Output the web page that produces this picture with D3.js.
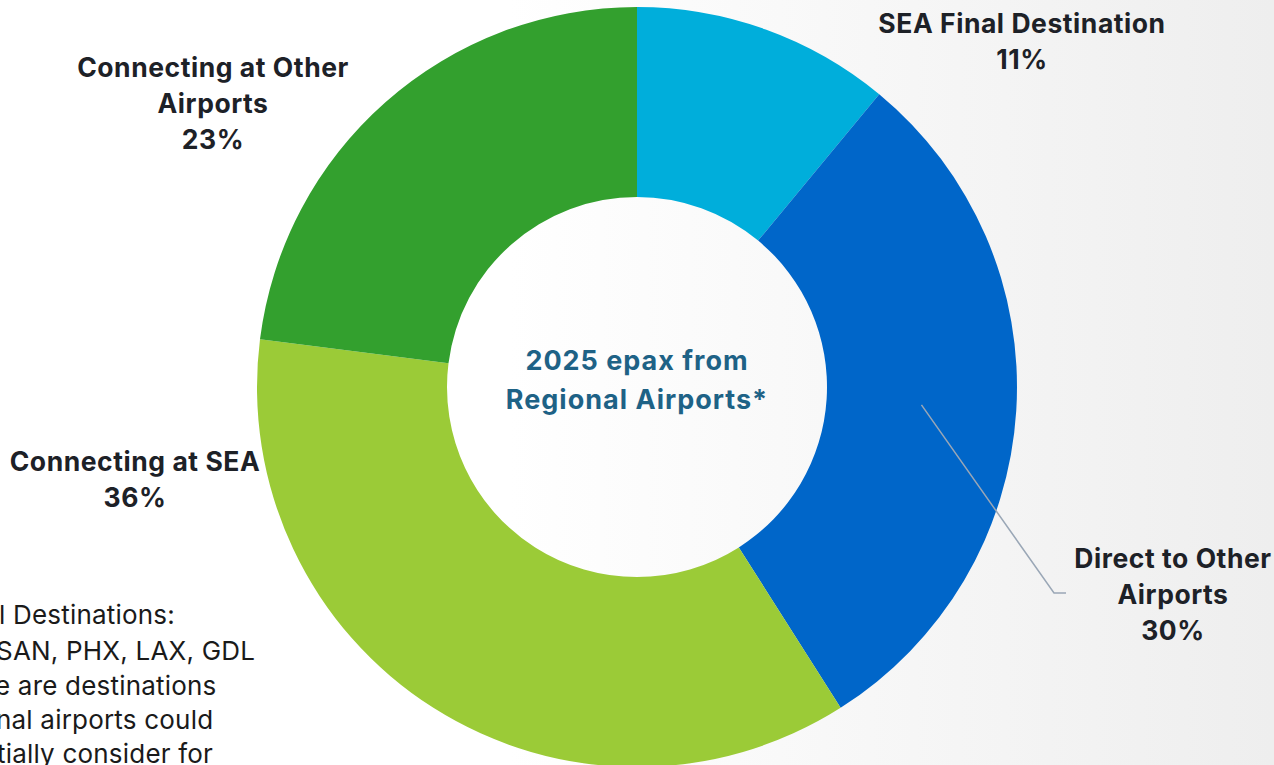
<!DOCTYPE html>
<html>
<head>
<meta charset="utf-8">
<script src="https://cdn.jsdelivr.net/npm/d3@7"></script>
<style>
  html, body { margin: 0; padding: 0; overflow: hidden; }
  svg { display: block; }
</style>
</head>
<body>
<svg id="chart" width="1274" height="765"></svg>
<script>
// Share of 2025 enplaned passengers (epax) from regional airports
const categories = [
  "SEA Final Destination",
  "Direct to Other Airports",
  "Connecting at SEA",
  "Connecting at Other Airports"
];
const shares = [11, 30, 36, 23];
const colors = ["#00AEDB", "#0066C9", "#9BCB37", "#33A02E"];
// Label lines for each slice (name wrapped as on the slide)
const labelLines = [
  ["SEA Final Destination"],
  ["Direct to Other", "Airports"],
  ["Connecting at SEA"],
  ["Connecting at Other", "Airports"]
];
const centerTitle = ["2025 epax from", "Regional Airports*"];
const footnote = [
  "l Destinations:",
  "SAN, PHX, LAX, GDL",
  "e are destinations",
  "nal airports could",
  "tially consider for"
];

const W = 1274, H = 765;
const cx = 637, cy = 387;
const outerR = 380, innerR = 190;

const svg = d3.select("#chart");

// Soft slide background: white on the left fading to light grey on the right
const defs = svg.append("defs");
const grad = defs.append("linearGradient")
  .attr("id", "bg").attr("x1", "0%").attr("x2", "100%").attr("y1", "0%").attr("y2", "0%");
grad.append("stop").attr("offset", "0%").attr("stop-color", "#ffffff");
grad.append("stop").attr("offset", "40%").attr("stop-color", "#ffffff");
grad.append("stop").attr("offset", "100%").attr("stop-color", "#eeeeee");
svg.append("rect").attr("width", W).attr("height", H).attr("fill", "url(#bg)");

const font = "Inter, 'Noto Sans', sans-serif";
const textColor = "#1d2127";

// Footnote block, partly hidden past the left edge
const foot = svg.append("g").attr("font-family", font).attr("font-size", 26)
  .attr("letter-spacing", 0.2).attr("fill", "#1a1a1a");
const footX = [-1, -4, -5, -4, -3];
const footY = [624, 660, 695, 729, 763];
footnote.forEach((t, i) => {
  foot.append("text").attr("x", footX[i]).attr("y", footY[i]).text(t);
});

// Donut
const pie = d3.pie().sort(null).value(d => d);
const arc = d3.arc().innerRadius(innerR).outerRadius(outerR);
const arcs = pie(shares);

const g = svg.append("g").attr("transform", `translate(${cx},${cy})`);
g.selectAll("path.slice")
  .data(arcs)
  .join("path")
  .attr("class", "slice")
  .attr("d", arc)
  .attr("fill", (d, i) => colors[i]);

// Leader line for the "Direct to Other Airports" slice
const c1 = arc.centroid(arcs[1]);
const leader = [
  [cx + c1[0], cy + c1[1]],
  [1054, 593],
  [1066, 593]
];
svg.append("path")
  .attr("d", d3.line()(leader))
  .attr("fill", "none")
  .attr("stroke", "#9aa7b6")
  .attr("stroke-width", 1.5);

// Slice labels: name lines followed by the percentage
const labelPos = [
  { x: 1022, y: 33 },
  { x: 1173, y: 568 },
  { x: 135, y: 471 },
  { x: 213, y: 77 }
];
const lineH = 36;
const labels = svg.append("g")
  .attr("font-family", font).attr("font-weight", 700).attr("font-size", 26.5)
  .attr("letter-spacing", 0.55)
  .attr("fill", textColor).attr("text-anchor", "middle");
arcs.forEach((a, i) => {
  const lines = labelLines[i].concat([`${shares[i]}%`]);
  lines.forEach((t, k) => {
    labels.append("text")
      .attr("x", labelPos[i].x)
      .attr("y", labelPos[i].y + k * lineH)
      .text(t);
  });
});

// Centre title
const ct = svg.append("g")
  .attr("font-family", font).attr("font-weight", 700).attr("font-size", 27)
  .attr("letter-spacing", 1)
  .attr("fill", "#1e6286").attr("text-anchor", "middle");
centerTitle.forEach((t, k) => {
  ct.append("text").attr("x", cx).attr("y", 370 + k * 39).text(t);
});
</script>
</body>
</html>
